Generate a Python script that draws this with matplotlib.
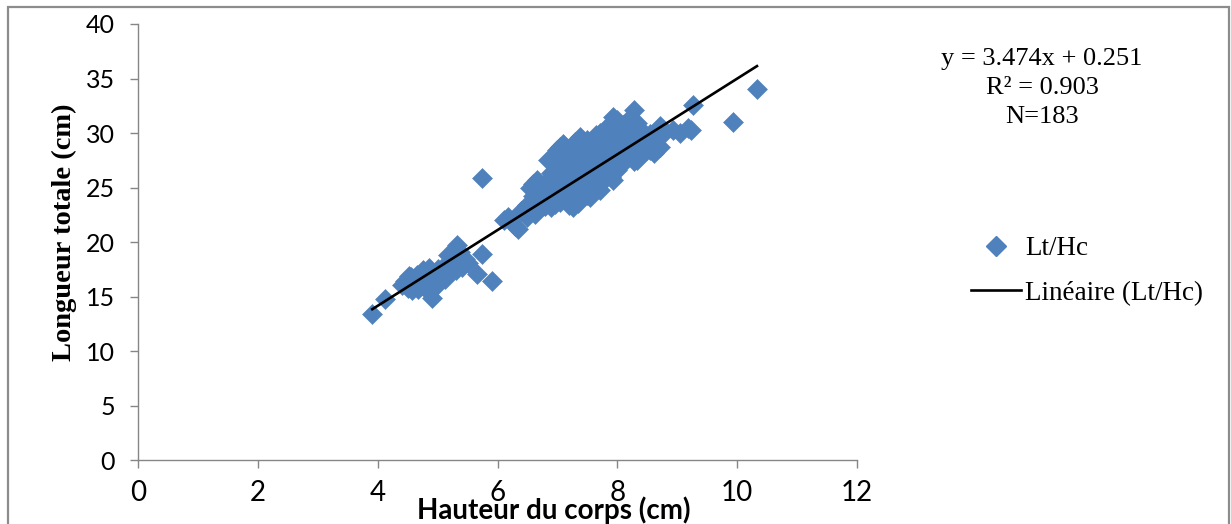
import matplotlib
matplotlib.use("Agg")
import matplotlib.pyplot as plt
from matplotlib.lines import Line2D
from matplotlib.patches import Rectangle
import numpy as np

# Body height (Hc) and total length (Lt), cm
hauteur = [
    3.91, 4.12, 4.40, 4.45, 4.50, 4.55, 4.58, 4.62, 4.66, 4.70, 4.72, 4.75, 4.78,
    4.82, 4.85, 4.88, 4.91, 4.93, 4.96, 5.00, 5.05, 5.10, 5.15, 5.20, 5.25, 5.28,
    5.32, 5.35, 5.40, 5.45, 5.50, 5.66, 5.74, 5.74, 5.91, 5.30, 4.98, 5.18, 5.38,
    4.52, 4.68, 5.12,
    6.10, 6.18, 6.30, 6.34, 6.40,
    6.49, 6.49, 6.54, 6.54, 6.60, 6.60, 6.66, 6.66, 6.66, 6.70, 6.70, 6.76, 6.76,
    6.80, 6.80, 6.80, 6.85, 6.85, 6.90, 6.90, 6.90, 6.96, 6.96, 6.96, 6.62,
    7.00, 7.00, 7.00, 7.00, 7.05, 7.05, 7.05, 7.10, 7.10, 7.10, 7.10, 7.15, 7.15,
    7.15, 7.20, 7.20, 7.20, 7.20, 7.26, 7.26, 7.26, 7.26, 7.30, 7.30, 7.30, 7.38,
    7.38, 7.38, 7.38, 7.40, 7.40, 7.45, 7.45, 7.45, 7.45, 7.35,
    7.50, 7.50, 7.50, 7.50, 7.55, 7.55, 7.55, 7.60, 7.60, 7.60, 7.60, 7.65, 7.65,
    7.65, 7.71, 7.71, 7.71, 7.71, 7.75, 7.75, 7.75, 7.80, 7.80, 7.80, 7.80, 7.85,
    7.85, 7.90, 7.90, 7.90, 7.90, 7.93, 7.93, 7.93,
    8.00, 8.00, 8.00, 8.00, 8.05, 8.05, 8.05, 8.10, 8.10, 8.10, 8.15, 8.15, 8.20,
    8.20, 8.20, 8.27, 8.27, 8.27, 8.33, 8.33, 8.33, 8.40, 8.40, 8.40, 8.45, 8.50,
    8.50, 8.55, 8.55, 8.60, 8.62, 8.71, 8.71, 8.80, 8.93, 9.05, 9.18, 9.23, 9.27,
    9.93, 10.33,
]
longueur = [
    13.4, 14.8, 16.1, 16.4, 15.8, 16.8, 15.6, 16.3, 17.0, 16.0, 16.6, 17.4, 15.9,
    16.9, 17.6, 16.2, 14.9, 17.2, 16.5, 17.5, 17.0, 17.8, 17.3, 18.2, 17.6, 18.6,
    19.7, 18.0, 17.7, 18.4, 18.1, 17.1, 18.9, 25.9, 16.4, 17.4, 16.0, 18.8, 19.1,
    16.9, 15.7, 16.6,
    22.0, 22.3, 21.5, 21.2, 22.8,
    22.3, 23.4, 23.6, 25.0, 24.2, 25.3, 25.7, 24.6, 23.8, 24.0, 25.1, 23.6, 24.8,
    25.4, 24.3, 23.3, 27.5, 24.0, 23.2, 25.8, 26.3, 27.8, 24.5, 23.5, 22.6,
    28.4, 25.2, 24.0, 26.1, 28.7, 26.6, 23.7, 29.0, 25.5, 24.4, 27.2, 28.2, 26.0,
    23.9, 27.8, 25.0, 23.4, 26.7, 23.2, 25.8, 27.5, 28.8, 26.2, 24.6, 29.2, 29.6,
    27.0, 25.0, 24.2, 26.5, 28.1, 24.6, 27.7, 25.9, 29.0, 23.6,
    29.4, 26.8, 25.3, 24.3, 24.1, 27.3, 28.5, 28.9, 26.1, 25.0, 27.6, 29.8, 25.6,
    27.0, 30.0, 28.2, 26.4, 24.8, 27.4, 29.3, 25.5, 28.6, 26.9, 25.9, 30.4, 27.9,
    26.2, 29.0, 27.2, 26.0, 30.8, 31.5, 25.7, 28.3,
    31.2, 29.6, 27.8, 26.6, 28.9, 30.2, 27.0, 30.7, 29.3, 27.5, 28.4, 31.0, 29.8,
    27.9, 30.6, 32.1, 29.0, 27.4, 30.9, 27.5, 28.7, 29.6, 28.0, 30.3, 28.8, 29.2,
    28.4, 28.4, 29.9, 29.4, 28.2, 30.6, 28.7, 30.1, 30.3, 30.0, 30.5, 30.3, 32.6,
    31.0, 34.0,
]

# Linear trend as reported
pente = 3.474
ordonnee = 0.251
r2 = 0.903
effectif = 183

x_ticks = [0, 2, 4, 6, 8, 10, 12]
y_ticks = [0, 5, 10, 15, 20, 25, 30, 35, 40]

bleu = "#4F81BD"
gris = "#868686"

plt.rcParams["font.family"] = ["Lato", "DejaVu Sans"]
plt.rcParams["xtick.labelsize"] = 20
plt.rcParams["ytick.labelsize"] = 18
plt.rcParams["xtick.major.pad"] = 9
plt.rcParams["ytick.major.pad"] = 11

fig = plt.figure(figsize=(12.31, 5.24), dpi=100)
ax = fig.add_axes([0.1121, 0.1221, 0.5841, 0.8321])

ax.plot(hauteur, longueur, linestyle="none", marker="D", markersize=10.2,
        markerfacecolor=bleu, markeredgecolor=bleu, markeredgewidth=0.4,
        zorder=2)

xs = np.array([min(hauteur), max(hauteur)])
ax.plot(xs, pente * xs + ordonnee, color="black", linewidth=1.9, zorder=3)

ax.set_xlim(0, 12)
ax.set_ylim(0, 40)
ax.set_xticks(x_ticks)
ax.set_yticks(y_ticks)
for s in ("top", "right"):
    ax.spines[s].set_visible(False)
for s in ("left", "bottom"):
    ax.spines[s].set_color(gris)
    ax.spines[s].set_linewidth(1.0)
ax.tick_params(axis="both", direction="out", length=5.5, width=1.0, color=gris,
               labelcolor="black")

fig.text(0.450, 0.027, "Hauteur du corps (cm)", fontfamily="Lato",
         fontweight="bold", fontsize=20, ha="center", va="center")
fig.text(0.052, 0.557, "Longueur totale (cm)", fontfamily="Liberation Serif",
         fontweight="bold", fontsize=20.5, rotation=90, ha="center", va="center")

fig.text(0.8465, 0.832,
         f"y = {pente}x + {ordonnee}\nR² = {r2}\nN={effectif}",
         fontfamily="Liberation Serif", fontsize=19, ha="center", va="center",
         linespacing=1.4, multialignment="center")

handles = [
    Line2D([], [], linestyle="none", marker="D", markersize=10.2,
           markerfacecolor=bleu, markeredgecolor=bleu),
    Line2D([], [], color="black", linewidth=1.9),
]
leg = fig.legend(handles, ["Lt/Hc", "Linéaire (Lt/Hc)"], loc="center left",
                 bbox_to_anchor=(0.789, 0.483), frameon=False,
                 prop={"family": "Liberation Serif", "size": 19.5},
                 handlelength=1.85, handletextpad=0.15, labelspacing=0.72,
                 borderpad=0, borderaxespad=0)

# Outer chart frame
fig.patches.append(Rectangle((0.0065, -0.01), 0.992, 0.997, transform=fig.transFigure,
                             fill=False, edgecolor="#8c8c8c", linewidth=1.6))

fig.savefig("out.png", dpi=100)
